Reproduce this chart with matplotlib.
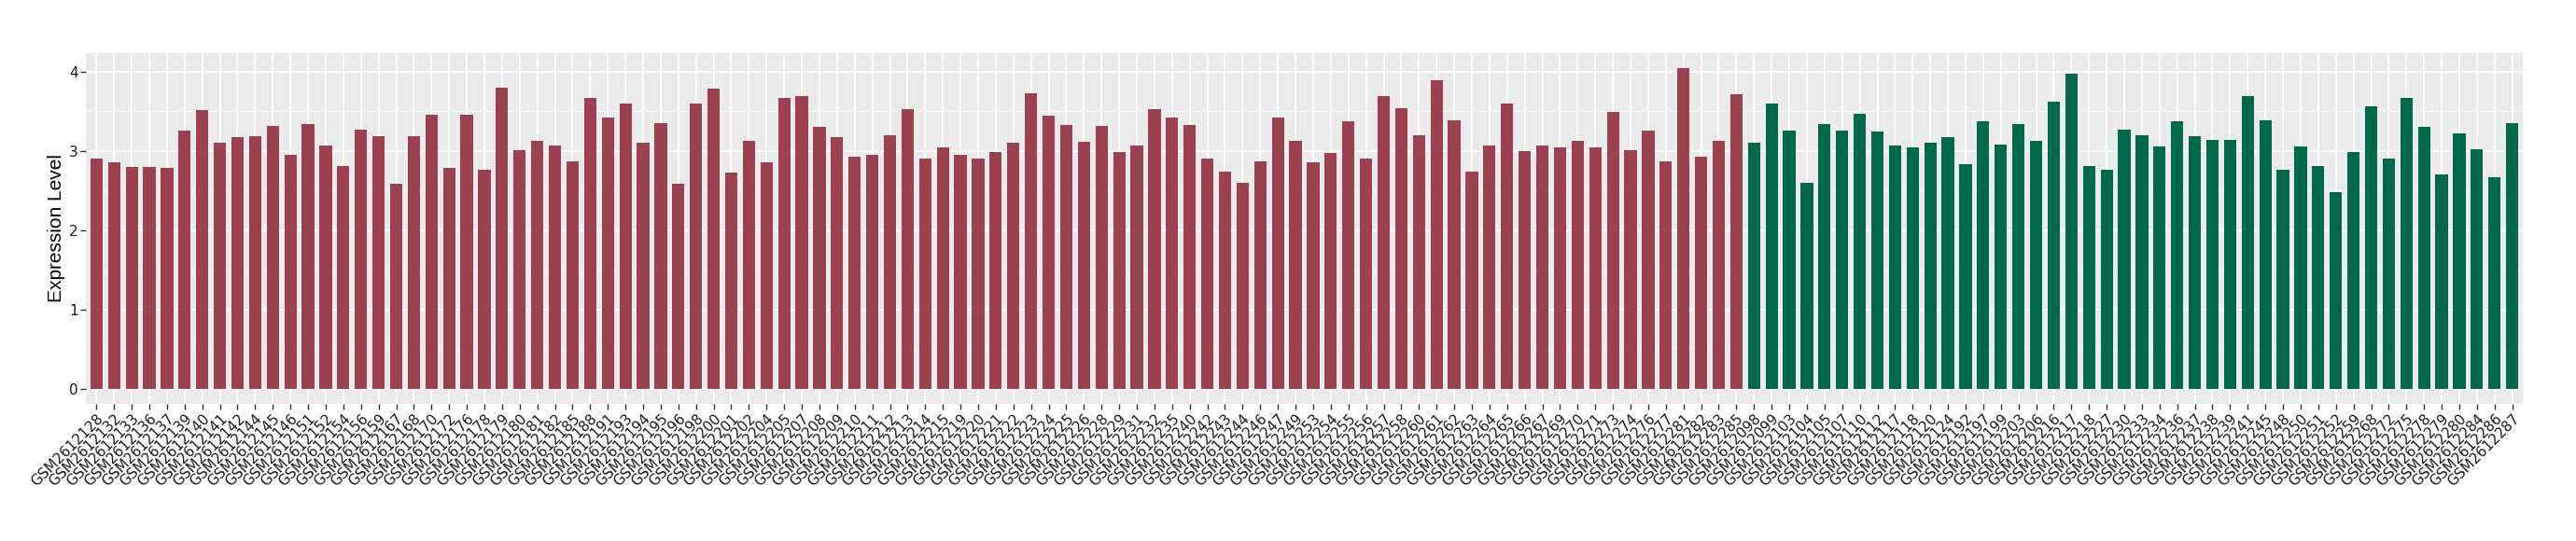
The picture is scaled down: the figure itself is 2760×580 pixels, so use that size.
import matplotlib
matplotlib.use("Agg")
import matplotlib.pyplot as plt
import numpy as np
from matplotlib.ticker import MultipleLocator

group_a_ids = [2128, 2132, 2133, 2136, 2137, 2139, 2140, 2141, 2142, 2144, 2145, 2146, 2151, 2152,
               2154, 2156, 2159, 2167, 2168, 2170, 2172, 2176, 2178, 2179, 2180, 2181, 2182, 2185,
               2188, 2191, 2193, 2194, 2195, 2196, 2198, 2200, 2201, 2202, 2204, 2205, 2207, 2208,
               2209, 2210, 2211, 2212, 2213, 2214, 2215, 2219, 2220, 2221, 2222, 2223, 2224, 2225,
               2226, 2228, 2229, 2231, 2232, 2235, 2240, 2242, 2243, 2244, 2246, 2247, 2249, 2253,
               2254, 2255, 2256, 2257, 2258, 2260, 2261, 2262, 2263, 2264, 2265, 2266, 2267, 2269,
               2270, 2271, 2273, 2274, 2276, 2277, 2281, 2282, 2283, 2285]
group_a_values = [2.90, 2.86, 2.79, 2.80, 2.78, 3.26, 3.51, 3.10, 3.17, 3.18, 3.31, 2.95, 3.34, 3.07,
                  2.81, 3.27, 3.18, 2.58, 3.18, 3.45, 2.78, 3.45, 2.76, 3.79, 3.01, 3.12, 3.07, 2.87,
                  3.66, 3.42, 3.59, 3.10, 3.35, 2.59, 3.59, 3.78, 2.72, 3.13, 2.85, 3.67, 3.69, 3.30,
                  3.17, 2.92, 2.95, 3.19, 3.52, 2.90, 3.04, 2.95, 2.90, 2.98, 3.10, 3.73, 3.44, 3.33,
                  3.11, 3.31, 2.98, 3.07, 3.52, 3.42, 3.32, 2.90, 2.74, 2.60, 2.87, 3.42, 3.13, 2.86,
                  2.97, 3.37, 2.90, 3.69, 3.54, 3.20, 3.89, 3.38, 2.74, 3.07, 3.59, 2.99, 3.07, 3.04,
                  3.12, 3.04, 3.49, 3.01, 3.25, 2.87, 4.04, 2.92, 3.13, 3.71]

group_b_ids = [2098, 2099, 2103, 2104, 2105, 2107, 2110, 2112, 2117, 2118, 2120, 2124, 2192, 2197,
               2199, 2203, 2206, 2216, 2217, 2218, 2227, 2230, 2233, 2234, 2236, 2237, 2238, 2239,
               2241, 2245, 2248, 2250, 2251, 2252, 2259, 2268, 2272, 2275, 2278, 2279, 2280, 2284,
               2286, 2287]
group_b_values = [3.10, 3.59, 3.25, 2.60, 3.34, 3.25, 3.47, 3.24, 3.07, 3.04, 3.10, 3.17, 2.83, 3.37,
                  3.08, 3.34, 3.12, 3.62, 3.97, 2.81, 2.76, 3.27, 3.19, 3.05, 3.37, 3.18, 3.14, 3.14,
                  3.69, 3.38, 2.76, 3.05, 2.81, 2.48, 2.98, 3.56, 2.90, 3.67, 3.30, 2.70, 3.22, 3.02,
                  2.67, 3.35]

color_a = "#9b4150"
color_b = "#00694a"

labels = ["GSM261" + str(i) for i in group_a_ids + group_b_ids]
values = group_a_values + group_b_values
colors = [color_a] * len(group_a_values) + [color_b] * len(group_b_values)
x = np.arange(len(values))

fig = plt.figure(figsize=(27.6, 5.8), dpi=100)
ax = fig.add_axes([92 / 2760, 1 - 433 / 580, (2703 - 92) / 2760, (433 - 57) / 580])
ax.set_facecolor("#ebebeb")
ax.set_axisbelow(True)

ax.bar(x, values, width=0.7, color=colors, zorder=2)

ax.set_xlim(-0.6, len(values) - 0.4)
ax.set_ylim(-0.19, 4.23)
ax.set_xticks(x)
ax.set_xticklabels(labels, rotation=45, ha="right", va="top", rotation_mode="anchor",
                   fontsize=11, color="#1a1a1a")
ax.set_yticks([0, 1, 2, 3, 4])
ax.yaxis.set_minor_locator(MultipleLocator(0.5))
ax.tick_params(axis="y", which="minor", length=0)
ax.tick_params(axis="both", which="major", length=4, width=1, color="#333333",
               labelsize=11, labelcolor="#1a1a1a", pad=2)

ax.grid(which="major", axis="both", color="white", linewidth=1.3, zorder=0)
ax.grid(which="minor", axis="y", color="#f5f5f5", linewidth=0.7, zorder=0)
for s in ax.spines.values():
    s.set_visible(False)

ax.set_ylabel("Expression Level", fontsize=15, family="Liberation Sans", labelpad=3)

fig.savefig("out.png", dpi=100, facecolor="white")
